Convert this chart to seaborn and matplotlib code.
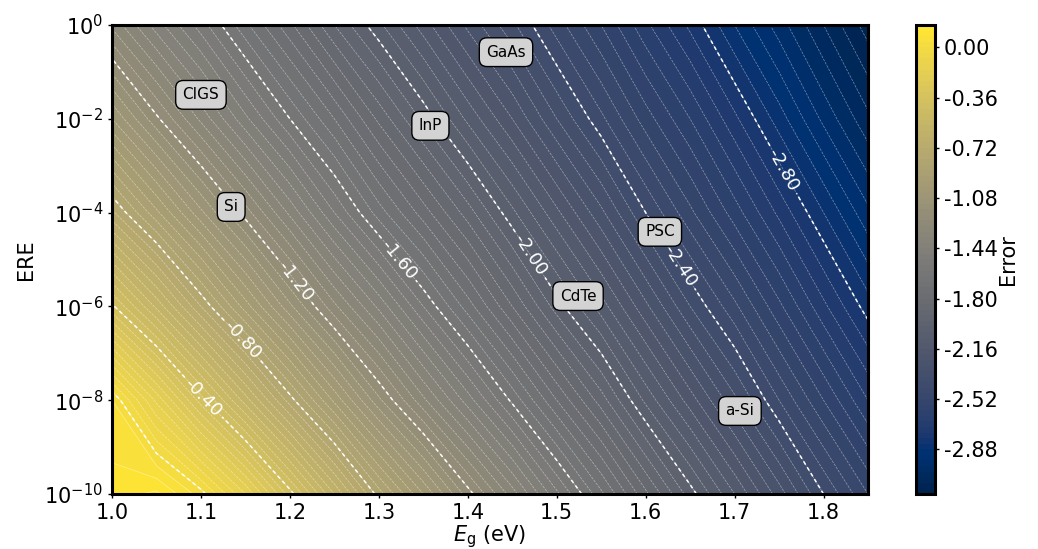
import numpy as np
import matplotlib
matplotlib.use('Agg')
import matplotlib.pyplot as plt
import seaborn as sns

# ── Data ────────────────────────────────────────────────────────────────
EG = [1.00, 1.05, 1.10, 1.15, 1.20, 1.25, 1.30, 1.35, 1.40,
      1.45, 1.50, 1.55, 1.60, 1.65, 1.70, 1.75, 1.80, 1.85]
LOG_ERE = [-10, -8, -6, -4, -2, 0]

ERR_M10 = [0.10, 0.13, 0.02, -0.16, -0.38, -0.60, -0.82, -1.00, -1.18,
           -1.34, -1.51, -1.67, -1.83, -1.98, -2.12, -2.26, -2.40, -2.52]
ERR_M8 = [0.04, -0.17, -0.38, -0.58, -0.78, -0.97, -1.15, -1.31, -1.46,
          -1.61, -1.76, -1.90, -2.05, -2.18, -2.31, -2.44, -2.56, -2.68]
ERR_M6 = [-0.39, -0.57, -0.76, -0.94, -1.11, -1.27, -1.41, -1.56, -1.70,
          -1.84, -1.98, -2.10, -2.23, -2.36, -2.47, -2.59, -2.71, -2.82]
ERR_M4 = [-0.75, -0.91, -1.07, -1.22, -1.37, -1.52, -1.66, -1.78, -1.90,
          -2.03, -2.15, -2.27, -2.40, -2.51, -2.62, -2.73, -2.84, -2.95]
ERR_M2 = [-1.04, -1.19, -1.33, -1.47, -1.60, -1.72, -1.85, -1.97, -2.09,
          -2.20, -2.32, -2.43, -2.54, -2.64, -2.75, -2.86, -2.97, -3.07]
ERR_0 = [-1.29, -1.42, -1.54, -1.67, -1.79, -1.92, -2.03, -2.14, -2.25,
         -2.35, -2.46, -2.56, -2.67, -2.77, -2.88, -2.98, -3.08, -3.18]

MATERIALS = ['CIGS', 'Si', 'InP', 'GaAs', 'PSC', 'CdTe', 'a-Si']
MAT_EG = [1.10, 1.134, 1.358, 1.443, 1.616, 1.524, 1.706]
MAT_LOG_ERE = [-1.49, -3.88, -2.15, -0.58, -4.41, -5.78, -8.23]

CBAR_TICKS = [0.00, -0.36, -0.72, -1.08, -1.44, -1.80, -2.16, -2.52, -2.88]
LABEL_SPOTS = [(1.102, -7.95), (1.147, -6.72), (1.204, -5.48), (1.324, -4.97),
               (1.470, -4.90), (1.639, -5.12), (1.754, -3.09)]

# ── Style ───────────────────────────────────────────────────────────────
sns.set_style("white")
plt.rcParams.update({
    'font.family': ['DejaVu Sans'], 'font.size': 15,
    'text.color': 'black', 'axes.labelcolor': 'black',
    'xtick.color': 'black', 'ytick.color': 'black', 'axes.edgecolor': 'black',
    'axes.unicode_minus': False, 'axes.linewidth': 2.2,
    'xtick.direction': 'out', 'ytick.direction': 'out',
    'xtick.major.size': 3, 'ytick.major.size': 3,
    'xtick.major.width': 1, 'ytick.major.width': 1,
    'xtick.bottom': True, 'ytick.left': True,
})
cmap = sns.color_palette("cividis", as_cmap=True)

Z = np.array([ERR_M10, ERR_M8, ERR_M6, ERR_M4, ERR_M2, ERR_0])
X, Y = np.meshgrid(EG, LOG_ERE)

fine_levels = np.round(np.arange(-3.20, 0.161, 0.04), 2)
major_levels = np.round(np.arange(-2.80, 0.01, 0.40), 2)

fig = plt.figure(figsize=(10.38, 5.49), dpi=100)
ax = fig.add_axes([0.1079, 0.1002, 0.7283, 0.8543])
cax = fig.add_axes([0.8825, 0.1002, 0.0183, 0.8543])

cf = ax.contourf(X, Y, Z, levels=fine_levels, cmap=cmap)
ax.contour(X, Y, Z, levels=fine_levels, colors='white', linewidths=0.5, alpha=0.45)
cs = ax.contour(X, Y, Z, levels=major_levels, colors='white', linewidths=1.1,
                linestyles=[(0, (2.5, 2))])
ax.clabel(cs, levels=major_levels[:-1], inline=True, fmt='%.2f', fontsize=13,
          colors='white', manual=LABEL_SPOTS, inline_spacing=4)

for name, eg, le in zip(MATERIALS, MAT_EG, MAT_LOG_ERE):
    ax.text(eg, le, name, ha='center', va='center', fontsize=11, color='black',
            bbox=dict(boxstyle='round,pad=0.45,rounding_size=0.5',
                      facecolor='#d3d3d3', edgecolor='black', linewidth=1))

ax.set_xlim(1.0, 1.85)
ax.set_ylim(-10, 0)
ax.set_xticks([1.0, 1.1, 1.2, 1.3, 1.4, 1.5, 1.6, 1.7, 1.8])
ax.set_yticks(LOG_ERE)
ax.set_yticklabels([r'$10^{%d}$' % v for v in LOG_ERE])
ax.set_xlabel(r'$E_\mathrm{g}$ (eV)', labelpad=0)
ax.set_ylabel('ERE', labelpad=6)

cb = fig.colorbar(cf, cax=cax, ticks=CBAR_TICKS, format='%.2f')
cb.outline.set_linewidth(2.2)
cb.outline.set_edgecolor('black')
cb.ax.tick_params(size=3, width=1, colors='black')
cb.set_label('Error', labelpad=0)

fig.savefig('out.png', dpi=100)
